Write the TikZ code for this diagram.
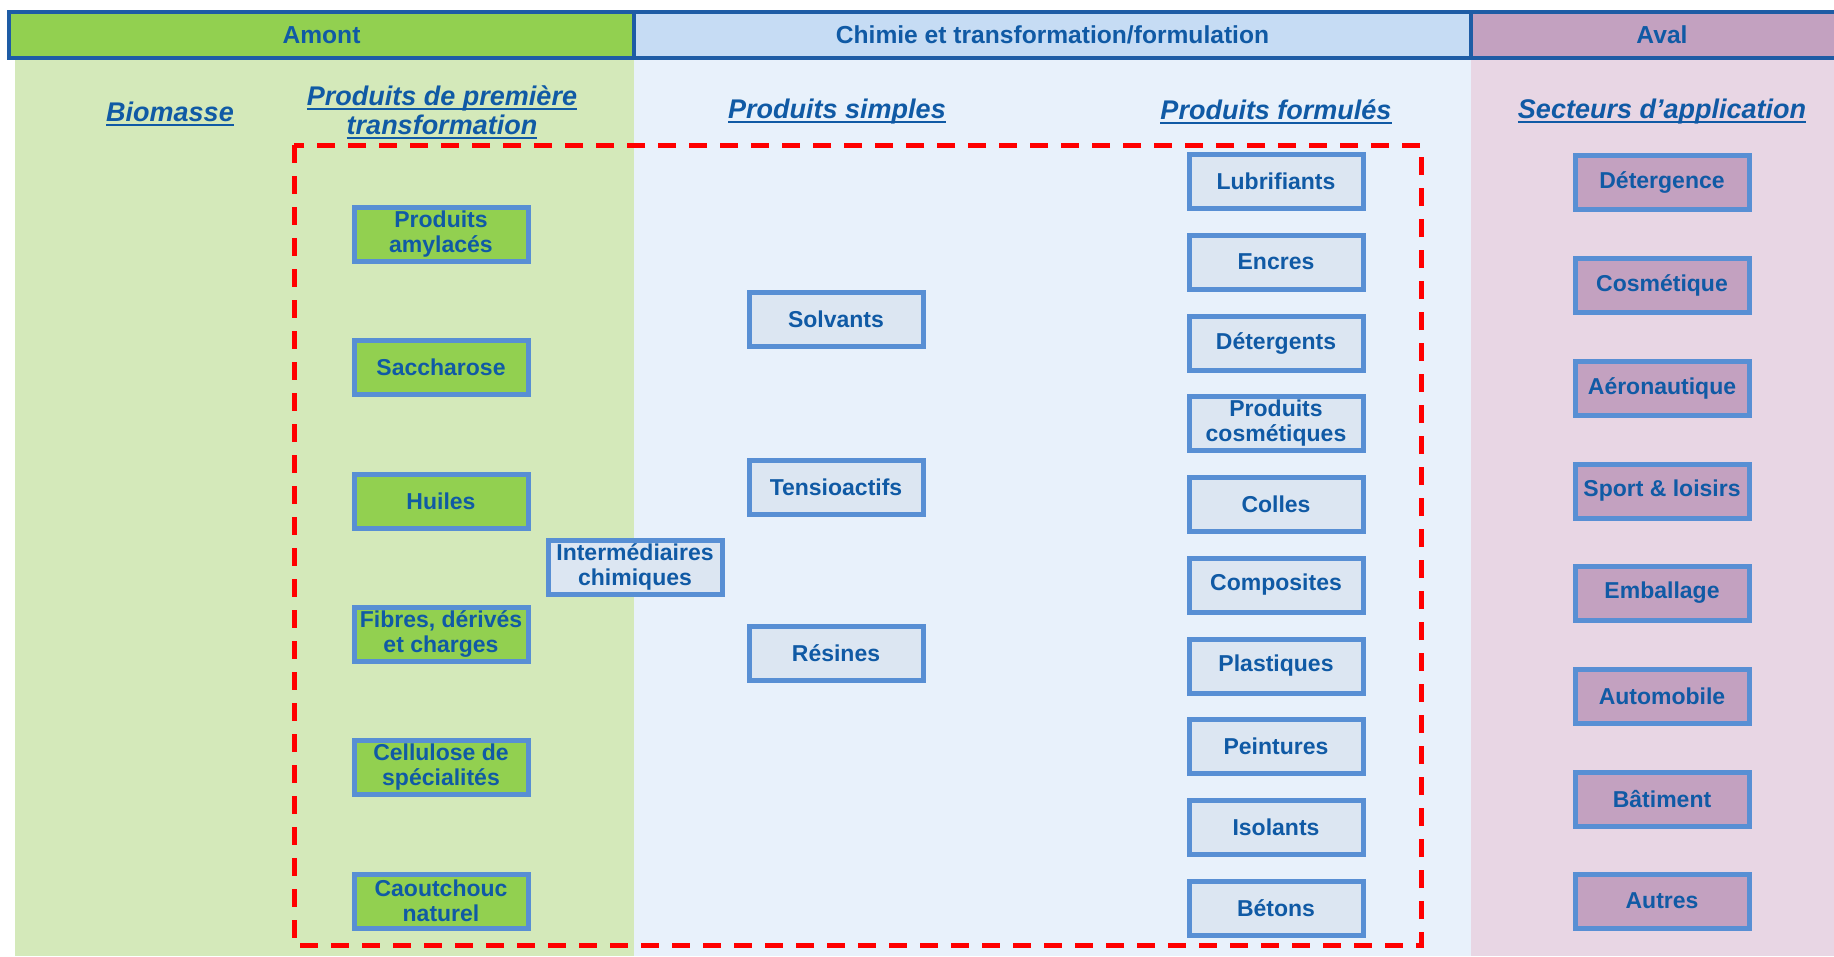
\documentclass[tikz,border=0pt]{standalone}
\usepackage{fontspec}
\setmainfont{Liberation Sans}
\usepackage{xcolor}
\usepackage{tikz}
\definecolor{textblue}{RGB}{16, 90, 165}
\definecolor{headerline}{RGB}{30, 92, 165}
\definecolor{boxline}{RGB}{88, 143, 212}
\definecolor{amontgreen}{RGB}{146, 208, 80}
\definecolor{chimiehead}{RGB}{198, 220, 244}
\definecolor{chimiebox}{RGB}{220, 230, 242}
\definecolor{avalbox}{RGB}{195, 161, 192}
\definecolor{amontbg}{RGB}{212, 233, 186}
\definecolor{chimiebg}{RGB}{232, 241, 251}
\definecolor{avalbg}{RGB}{232, 214, 228}
\usetikzlibrary{positioning}

\newcommand{\undertitle}[1]{\setbox0\hbox{#1}\rlap{\vrule height -2.5pt depth 4.5pt width \wd0}\box0}

\begin{document}
\begin{tikzpicture}[x=1pt, y=-1pt,
    header/.style={rectangle, draw=headerline, line width=4pt, minimum height=46pt, inner sep=0pt, font=\fontsize{24.6}{28}\selectfont\bfseries, text=textblue},
    title/.style={align=center, inner sep=0pt, font=\fontsize{27}{29}\selectfont\bfseries\itshape, text=textblue},
    item/.style={rectangle, draw=boxline, line width=5pt, minimum width=174pt, minimum height=54pt, inner sep=1pt, align=center, font=\fontsize{23}{24.5}\selectfont\bfseries, text=textblue},
    amont/.style={item, fill=amontgreen},
    chimie/.style={item, fill=chimiebox},
    aval/.style={item, fill=avalbox},
    frame/.style={draw=red, line width=5pt, dash pattern=on 18pt off 13pt}
]
    \useasboundingbox (0,0) rectangle (1834,956);

    % Backgrounds
    \fill[amontbg] (15,60) rectangle (634,956);
    \fill[chimiebg] (634,60) rectangle (1471,956);
    \fill[avalbg] (1471,60) rectangle (1860,956);

    % Header
    \node[header, fill=amontgreen, minimum width=625pt] (amont) at (321.5,35) {Amont};
    \node[header, fill=chimiehead, minimum width=837pt] (chimie) at (1052.5,35) {Chimie et transformation/formulation};
    \node[header, fill=avalbox, minimum width=382pt] (aval) at (1662,35) {Aval};

    % Column titles
    \node[title] (biomasse) at (170,114) {\undertitle{Biomasse}};
    \node[title] (premiere) at (442,112) {\undertitle{Produits de première}\\\undertitle{transformation}};
    \node[title] (simples) at (837,112) {\undertitle{Produits simples}};
    \node[title] (formules) at (1276,112) {\undertitle{Produits formulés}};
    \node[title] (secteurs) at (1662,112) {\undertitle{Secteurs d’application}};

    % Dashed frame
    \draw[frame] (294,145) rectangle (1421,945);

    % Produits de premiere transformation
    \node[amont] (amylaces) at (441,234) {Produits\\amylacés};
    \node[amont] (saccharose) at (441,367) {Saccharose};
    \node[amont] (huiles) at (441,501) {Huiles};
    \node[amont] (fibres) at (441,634) {Fibres, dérivés\\et charges};
    \node[amont] (cellulose) at (441,767) {Cellulose de\\spécialités};
    \node[amont] (caoutchouc) at (441,901) {Caoutchouc\\naturel};

    % Intermediaires
    \node[chimie] (intermediaires) at (635,567) {Intermédiaires\\chimiques};

    % Produits simples
    \node[chimie] (solvants) at (836,319) {Solvants};
    \node[chimie] (tensioactifs) at (836,487) {Tensioactifs};
    \node[chimie] (resines) at (836,653) {Résines};

    % Produits formules
    \node[chimie] (lubrifiants) at (1276,181) {Lubrifiants};
    \node[chimie] (encres) at (1276,262) {Encres};
    \node[chimie] (detergents) at (1276,343) {Détergents};
    \node[chimie] (cosmetiques) at (1276,423) {Produits\\cosmétiques};
    \node[chimie] (colles) at (1276,504) {Colles};
    \node[chimie] (composites) at (1276,585) {Composites};
    \node[chimie] (plastiques) at (1276,666) {Plastiques};
    \node[chimie] (peintures) at (1276,746) {Peintures};
    \node[chimie] (isolants) at (1276,827) {Isolants};
    \node[chimie] (betons) at (1276,908) {Bétons};

    % Secteurs d'application
    \node[aval] (detergence) at (1662,182) {Détergence};
    \node[aval] (cosmetique) at (1662,285) {Cosmétique};
    \node[aval] (aeronautique) at (1662,388) {Aéronautique};
    \node[aval] (sport) at (1662,491) {Sport \& loisirs};
    \node[aval] (emballage) at (1662,593) {Emballage};
    \node[aval] (automobile) at (1662,696) {Automobile};
    \node[aval] (batiment) at (1662,799) {Bâtiment};
    \node[aval] (autres) at (1662,901) {Autres};
\end{tikzpicture}
\end{document}
